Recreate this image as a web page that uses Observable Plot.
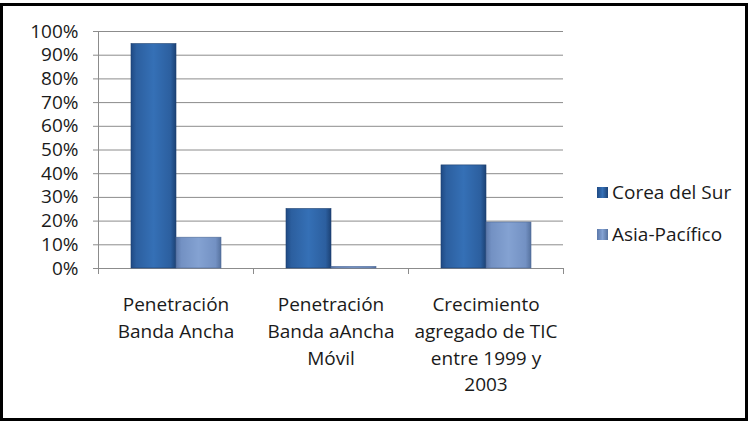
<!DOCTYPE html>
<html>
<head>
<meta charset="utf-8">
<script src="https://cdn.jsdelivr.net/npm/d3@7"></script>
<script src="https://cdn.jsdelivr.net/npm/@observablehq/plot@0.6"></script>
<style>
  body { margin: 0; background: #fff; }
  #wrap { position: relative; width: 750px; height: 421px; overflow: hidden; font-family: "Open Sans", sans-serif; }
  #border { position: absolute; left: 0; top: 3px; width: 748px; height: 418px; border: 3px solid #000; box-sizing: border-box; pointer-events: none; }
  #chart { position: absolute; left: 0; top: 0; }
  .leg { position: absolute; left: 597px; font-size: 19px; line-height: 26px; color: #1a1a1a; display: flex; align-items: center; }
  .sw { width: 11px; height: 11px; margin-right: 4px; box-sizing: border-box; }
</style>
</head>
<body>
<div id="wrap">
  <div id="chart"></div>
  <div id="legend"></div>
  <div id="border"></div>
</div>
<script>
const categories = ["Penetración Banda Ancha", "Penetración Banda aAncha Móvil", "Crecimiento agregado de TIC entre 1999 y 2003"];
const categoryLabels = ["Penetración\nBanda Ancha", "Penetración\nBanda aAncha\nMóvil", "Crecimiento\nagregado de TIC\nentre 1999 y\n2003"];
const series = ["Corea del Sur", "Asia-Pacífico"];
const coreaValues = [0.947, 0.251, 0.435];
const asiaValues = [0.130, 0.007, 0.194];
const yTicks = [0, 0.1, 0.2, 0.3, 0.4, 0.5, 0.6, 0.7, 0.8, 0.9, 1.0];

const corea = categories.map((c, i) => ({category: c, series: series[0], value: coreaValues[i]}));
const asia = categories.map((c, i) => ({category: c, series: series[1], value: asiaValues[i]}));

const gridColor = "#8c8c8c";
const textColor = "#1a1a1a";

const chart = Plot.plot({
  width: 750,
  height: 421,
  marginLeft: 98,
  marginRight: 187,
  marginTop: 31,
  marginBottom: 153,
  style: {fontFamily: "Open Sans, sans-serif", background: "transparent"},
  x: {domain: categories, padding: 0, label: null},
  y: {domain: [0, 1], label: null},
  marks: [
    Plot.gridY(yTicks, {stroke: gridColor, strokeOpacity: 1}),
    Plot.ruleX([categories[0]], {y1: 0, y2: 1, dx: -77.5, stroke: gridColor}),
    Plot.ruleX(categories, {y1: 0, y2: 0, insetBottom: -6, dx: -77.5, stroke: gridColor}),
    Plot.ruleX([categories[categories.length - 1]], {y1: 0, y2: 0, insetBottom: -6, dx: 77.5, stroke: gridColor}),
    Plot.barY(corea, {x: "category", y: "value", fill: "url(#gCorea)", stroke: "#1d3f6e", strokeWidth: 0.6, insetLeft: 33, insetRight: 77}),
    Plot.barY(asia, {x: "category", y: "value", fill: "url(#gAsia)", stroke: "#4f6a98", strokeWidth: 0.6, insetLeft: 78, insetRight: 32}),
    Plot.axisY({ticks: yTicks, tickFormat: d3.format(".0%"), tickSize: 5, tickPadding: 15, fontSize: 19, stroke: gridColor, color: textColor, label: null}),
    Plot.axisX({tickSize: 0, tickPadding: 24, fontSize: 19, lineHeight: 1.4, color: textColor, label: null,
      tickFormat: d => categoryLabels[categories.indexOf(d)]})
  ]
});

// gradient definitions for the bevelled bars
const svg = d3.select(chart);
const defs = svg.insert("defs", ":first-child");
function grad(id, stops) {
  const g = defs.append("linearGradient").attr("id", id).attr("x1", 0).attr("x2", 1).attr("y1", 0).attr("y2", 0);
  stops.forEach(([o, c]) => g.append("stop").attr("offset", o).attr("stop-color", c));
}
grad("gCorea", [[0, "#1f4a84"], [0.12, "#2c5f9f"], [0.5, "#3570b6"], [0.88, "#2c5f9f"], [1, "#1c4275"]]);
grad("gAsia", [[0, "#5b78aa"], [0.12, "#7391c3"], [0.5, "#84a2d2"], [0.88, "#7391c3"], [1, "#56729f"]]);
document.getElementById("chart").appendChild(chart);

const legend = document.getElementById("legend");
const legendFills = ["linear-gradient(90deg,#1f4a84,#3570b6,#1c4275)", "linear-gradient(90deg,#5b78aa,#84a2d2,#56729f)"];
const legendTops = [179, 221];
series.forEach((s, i) => {
  const el = document.createElement("div");
  el.className = "leg";
  el.style.top = legendTops[i] + "px";
  el.innerHTML = `<div class="sw" style="background:${legendFills[i]}"></div><span>${s}</span>`;
  legend.appendChild(el);
});
</script>
</body>
</html>
